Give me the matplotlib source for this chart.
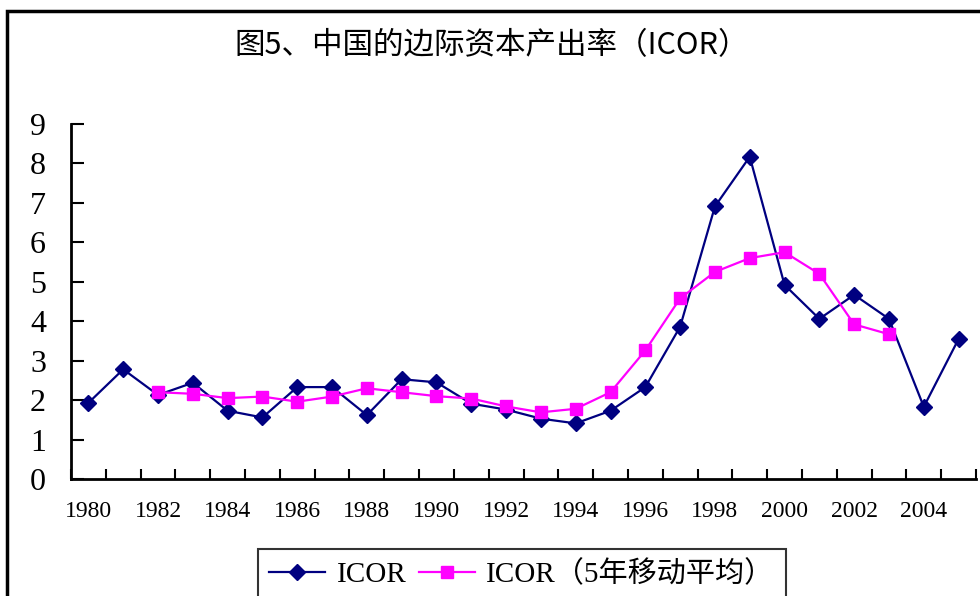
import matplotlib
matplotlib.use('Agg')
from matplotlib import pyplot as plt
from matplotlib.patches import Rectangle

# data
years = list(range(1980, 2006))
icor = [1.93, 2.78, 2.13, 2.44, 1.73, 1.56, 2.33, 2.33, 1.62, 2.53,
        2.45, 1.91, 1.76, 1.53, 1.41, 1.73, 2.33, 3.86, 6.91, 8.17,
        4.92, 4.06, 4.67, 4.06, 1.83, 3.55]
ma_years = list(range(1982, 2004))
icor_ma5 = [2.2, 2.16, 2.05, 2.09, 1.96, 2.09, 2.3, 2.2, 2.1, 2.04,
            1.84, 1.69, 1.78, 2.2, 3.26, 4.58, 5.25, 5.6, 5.75, 5.2,
            3.92, 3.67]

title = '图5、中国的边际资本产出率（ICOR）'
labels = ['ICOR', 'ICOR（5年移动平均）']

serif_cjk = ['Liberation Serif', 'Noto Sans CJK SC', 'DejaVu Sans']

fig = plt.figure(figsize=(9.8, 5.96), dpi=100)
ax = fig.add_axes([71 / 980, 117 / 596, 905 / 980, 355 / 596])

x = [y - years[0] for y in years]
x_ma = [y - years[0] for y in ma_years]
ax.plot(x, icor, color='#000080', lw=1.6, marker='D', markersize=8,
        label=labels[0])
ax.plot(x_ma, icor_ma5, color='#FF00FF', lw=1.6, marker='s', markersize=8.5,
        label=labels[1])

ax.set_xlim(-0.5, len(years) - 0.5)
ax.set_ylim(0, 9)
ax.set_yticks(range(0, 10))
ax.set_yticklabels([str(i) for i in range(10)], fontfamily='Liberation Serif',
                   fontsize=23)
ax.tick_params(axis='y', direction='in', length=9, width=1.5, pad=18)

# tick marks between categories, labels every other year at centres
ax.set_xticks([i + 0.5 for i in range(-1, len(years))])
ax.set_xticklabels([])
ax.tick_params(axis='x', which='major', direction='in', length=7, width=1.5)
ax.set_xticks(x[::2], minor=True)
ax.set_xticklabels([str(y) for y in years[::2]], minor=True,
                   fontfamily='Liberation Serif', fontsize=17)
ax.tick_params(axis='x', which='minor', length=0, pad=16)

for s in ['top', 'right']:
    ax.spines[s].set_visible(False)
for s in ['left', 'bottom']:
    ax.spines[s].set_linewidth(2)

fig.text(492 / 980, 1 - 46 / 596, title, ha='center', va='center',
         fontsize=22, family=['Noto Sans CJK SC', 'DejaVu Sans'])

leg = fig.legend(loc='upper center', bbox_to_anchor=(522 / 980, 1 - 549 / 596),
                 ncol=2, frameon=True, fancybox=False, edgecolor='black',
                 prop={'family': serif_cjk, 'size': 21}, handlelength=1.9,
                 columnspacing=0.45, handletextpad=0.4, borderpad=0.4,
                 borderaxespad=0)
leg.get_frame().set_linewidth(1.5)

# outer chart border
fig.patches.append(Rectangle((7 / 980, -0.1), 1.1, 1.1 - 11 / 596,
                             transform=fig.transFigure, fill=False,
                             edgecolor='black', lw=2.5))

fig.savefig('out.png', dpi=100)
